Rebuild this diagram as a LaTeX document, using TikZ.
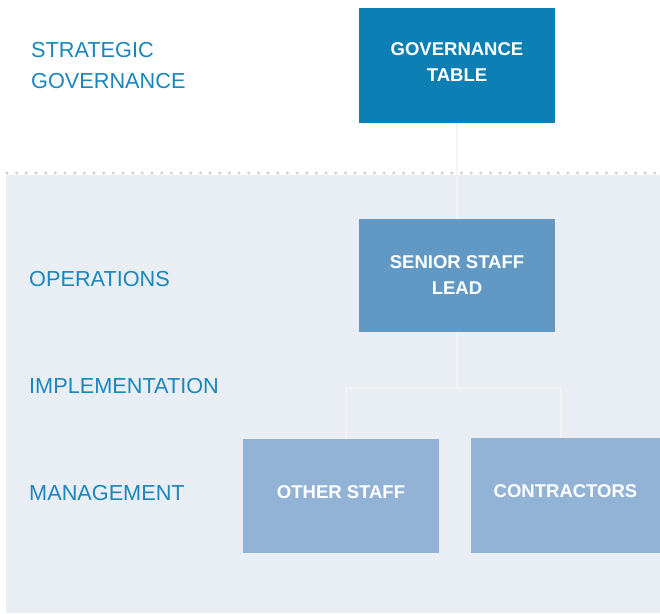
\documentclass[tikz,border=0pt]{standalone}
\usepackage{fontspec}
\setmainfont{Liberation Sans}
\definecolor{panel}{HTML}{E9EEF5}
\definecolor{govc}{HTML}{0C80B4}
\definecolor{seniorc}{HTML}{6199C4}
\definecolor{lowc}{HTML}{93B3D6}
\definecolor{labelc}{HTML}{1A86BC}
\definecolor{dotc}{HTML}{CDCDCD}
\definecolor{linkc}{HTML}{F3F3F3}
\begin{document}
\begin{tikzpicture}[x=1pt,y=1pt,
  box/.style={rectangle,inner sep=0pt,text=white,align=center,
    font=\fontsize{18.5}{26}\selectfont\bfseries},
  lvl/.style={anchor=west,inner sep=0pt,text=labelc,align=left,
    font=\fontsize{21.7}{31}\selectfont},
  link/.style={draw=linkc,line width=2pt}]
\useasboundingbox (0,0) rectangle (660,613);
\fill[white] (0,0) rectangle (660,613);
\fill[panel] (6,0) rectangle (660,438);
\foreach \k in {0,...,67}{\fill[dotc] (7+9.67*\k,440) circle (1.6);}
% nodes
\node[box,fill=govc,minimum width=196,minimum height=115,text depth=6pt] (gov) at (457,547.5) {GOVERNANCE\\TABLE};
\node[box,fill=seniorc,minimum width=196,minimum height=113] (senior) at (457,337.5) {SENIOR STAFF\\LEAD};
\node[box,fill=lowc,minimum width=196,minimum height=114,text depth=8pt] (other) at (341,117) {OTHER STAFF};
\node[box,fill=lowc,minimum width=189,minimum height=115,text depth=8pt] (contr) at (565.5,117.5) {CONTRACTORS};
\coordinate (j) at (457,225);
% connectors
\draw[link] (gov.south) -- (senior.north);
\draw[link] (senior.south) -- (j);
\draw[link] ([xshift=5pt]other.north) |- (j) -| ([xshift=-4.5pt]contr.north);
% level labels
\node[lvl] (l1) at (31,547) {STRATEGIC\\GOVERNANCE};
\node[lvl] (l2) at (29,333.5) {OPERATIONS};
\node[lvl] (l3) at (29,227) {IMPLEMENTATION};
\node[lvl] (l4) at (29,120) {MANAGEMENT};
\end{tikzpicture}
\end{document}
